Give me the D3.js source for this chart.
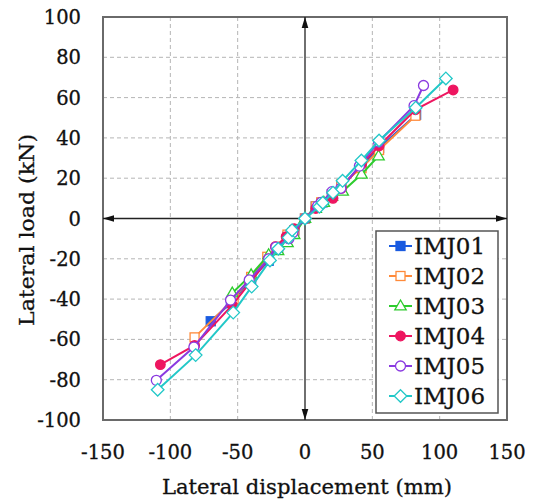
<!DOCTYPE html>
<html><head><meta charset="utf-8">
<script src="https://cdn.jsdelivr.net/npm/d3@7"></script>
<style>body{margin:0;background:#fff}</style>
</head><body>
<svg id="c" width="535" height="502"></svg>
<script>
const seriesNames = ["IMJ01","IMJ02","IMJ03","IMJ04","IMJ05","IMJ06"];
const seriesColors = ["#1a5be0","#ff8a3a","#2ecc2e","#ee1660","#8a3ae0","#22c8c8"];
const seriesMarkers = ["squareFilled","squareOpen","triangleOpen","circleFilled","circleOpen","diamondOpen"];
const xTicks = [-150,-100,-50,0,50,100,150];
const yTicks = [-100,-80,-60,-40,-20,0,20,40,60,80,100];

// [displacement mm, load kN]
const imj01 = [[-70,-51],[-55,-42],[-40,-30],[-27,-21],[-20,-15],[-13,-9],[-8,-6],[0,0],[8,6],[13,8],[20,12],[27,16],[42,26],[55,35],[82.5,51.5]];
const imj02 = [[-82,-59],[-53,-40],[-40,-29],[-28,-19],[-20,-14],[-13,-8],[-8,-6],[0,0],[8,6],[12,8],[20,12],[27,17],[42,25],[55,34],[82,51]];
const imj03 = [[-54,-37],[-40,-28],[-27,-18],[-20,-16],[-13,-12],[-8,-8],[0,0],[8,5],[14,8],[20,11],[28,13.5],[42,22],[54.6,31]];
const imj04 = [[-107.4,-72.5],[-82,-63],[-54,-43],[-41,-32],[-27,-20],[-22,-14],[-14,-9],[-8,-5],[0,0],[8,5],[12,8],[20.8,10],[27,15],[42,27],[55,36],[82,54],[110,63.8]];
const imj05 = [[-110.4,-80.3],[-82.5,-63.8],[-55.3,-40.5],[-41.4,-30.5],[-27,-20],[-21.6,-14.2],[-12,-10],[-9,-7],[0,0],[9.4,6.3],[12,8],[20,13.3],[26.6,15],[40.4,26],[54.6,38],[81,56],[88,66]];
const imj06 = [[-109.4,-85],[-81.2,-67.8],[-53.3,-46.7],[-39.6,-33.8],[-26,-20.8],[-19.8,-15],[-12.2,-9.5],[-9.6,-5.8],[0,0],[10.7,5.8],[13.2,7.8],[20.8,12.8],[27.9,18.7],[41.9,28.8],[55,38.7],[82.2,55],[104.6,69.5]];
const seriesData = [imj01,imj02,imj03,imj04,imj05,imj06];

const svg = d3.select("#c");
const FONT = "'DejaVu Serif', serif";
const TXT = "#111";
const x = d3.scaleLinear().domain([-150,150]).range([103,507]);
const y = d3.scaleLinear().domain([-100,100]).range([420,17]);

function styleText(sel,size){
  return sel.attr("font-family",FONT).attr("font-size",size).attr("fill",TXT)
    .attr("stroke",TXT).attr("stroke-width",0.3);
}

// grid
const g = svg.append("g");
g.selectAll("line.vg").data(xTicks.filter(t=>t!==0 && Math.abs(t)!==150)).enter().append("line")
  .attr("x1",d=>x(d)).attr("x2",d=>x(d)).attr("y1",y(100)).attr("y2",y(-100))
  .attr("stroke","#b5b5b5").attr("stroke-width",1).attr("stroke-dasharray","4,3");
g.selectAll("line.hg").data(yTicks.filter(t=>t!==0 && Math.abs(t)!==100)).enter().append("line")
  .attr("y1",d=>y(d)).attr("y2",d=>y(d)).attr("x1",x(-150)).attr("x2",x(150))
  .attr("stroke","#b5b5b5").attr("stroke-width",1).attr("stroke-dasharray","4,3");

// border
svg.append("rect").attr("x",x(-150)).attr("y",y(100)).attr("width",x(150)-x(-150)).attr("height",y(-100)-y(100))
  .attr("fill","none").attr("stroke","#6a6a6a").attr("stroke-width",2);

// central axes with arrows
const ax = svg.append("g");
ax.append("line").attr("x1",x(-150)).attr("x2",x(150)).attr("y1",y(0)).attr("y2",y(0)).attr("stroke","#222").attr("stroke-width",1.3);
ax.append("line").attr("x1",x(0)).attr("x2",x(0)).attr("y1",y(100)).attr("y2",y(-100)).attr("stroke","#222").attr("stroke-width",1.3);
const AL=11, AW=3.3;
function arrow(tx,ty,dx,dy){
  const px=-dy, py=dx;
  const bx=tx-dx*AL, by=ty-dy*AL;
  ax.append("path").attr("d",`M${tx},${ty}L${bx+px*AW},${by+py*AW}L${bx-px*AW},${by-py*AW}Z`).attr("fill","#111");
}
arrow(x(150),y(0),1,0); arrow(x(-150),y(0),-1,0);
arrow(x(0),y(100),0,-1); arrow(x(0),y(-100),0,1);

// tick labels
styleText(svg.append("g").selectAll("text").data(xTicks).enter().append("text")
  .attr("x",d=>x(d)).attr("y",459).attr("text-anchor","middle"),19.5).text(d=>d);
styleText(svg.append("g").selectAll("text").data(yTicks).enter().append("text")
  .attr("x",81).attr("y",d=>y(d)+7).attr("text-anchor","end"),19.5).text(d=>d);

// axis titles
styleText(svg.append("text").attr("x",x(0)+2).attr("y",494).attr("text-anchor","middle"),21)
  .attr("textLength",290).attr("lengthAdjust","spacingAndGlyphs").text("Lateral displacement (mm)");
styleText(svg.append("text").attr("transform",`translate(34,230) rotate(-90)`).attr("text-anchor","middle"),21)
  .attr("textLength",192).attr("lengthAdjust","spacingAndGlyphs").text("Lateral load (kN)");

// markers
function marker(sel,type,color,cx,cy){
  const fill = type.endsWith("Filled") ? color : "#fff";
  if(type.startsWith("square")){
    sel.append("rect").attr("x",cx-4.5).attr("y",cy-4.5).attr("width",9).attr("height",9)
      .attr("fill",fill).attr("stroke",color).attr("stroke-width",1.3);
  } else if(type.startsWith("circle")){
    sel.append("circle").attr("cx",cx).attr("cy",cy).attr("r",type==="circleFilled"?4.8:5)
      .attr("fill",fill).attr("stroke",color).attr("stroke-width",1.3);
  } else if(type.startsWith("triangle")){
    const r=6;
    sel.append("path").attr("d",`M${cx},${cy-r}L${cx+r*0.95},${cy+r*0.65}L${cx-r*0.95},${cy+r*0.65}Z`)
      .attr("fill",fill).attr("stroke",color).attr("stroke-width",1.3);
  } else {
    const r=6.3;
    sel.append("path").attr("d",`M${cx},${cy-r}L${cx+r},${cy}L${cx},${cy+r}L${cx-r},${cy}Z`)
      .attr("fill",fill).attr("stroke",color).attr("stroke-width",1.3);
  }
}

const line = d3.line().x(d=>x(d[0])).y(d=>y(d[1]));
seriesData.forEach((data,i)=>{
  const sg = svg.append("g");
  sg.append("path").datum(data).attr("d",line).attr("fill","none")
    .attr("stroke",seriesColors[i]).attr("stroke-width",2);
  data.forEach(d=>marker(sg,seriesMarkers[i],seriesColors[i],x(d[0]),y(d[1])));
});

// legend
const lg = svg.append("g");
lg.append("rect").attr("x",376).attr("y",231).attr("width",122).attr("height",182)
  .attr("fill","#fff").attr("stroke","#555").attr("stroke-width",1.5);
seriesNames.forEach((n,i)=>{
  const cy = 246 + i*30;
  lg.append("line").attr("x1",389).attr("x2",412).attr("y1",cy).attr("y2",cy)
    .attr("stroke",seriesColors[i]).attr("stroke-width",2);
  marker(lg,seriesMarkers[i],seriesColors[i],400.5,cy);
  styleText(lg.append("text").attr("x",414).attr("y",cy+7.5),21.5)
    .attr("textLength",71).attr("lengthAdjust","spacingAndGlyphs").text(n);
});
</script>
</body></html>
